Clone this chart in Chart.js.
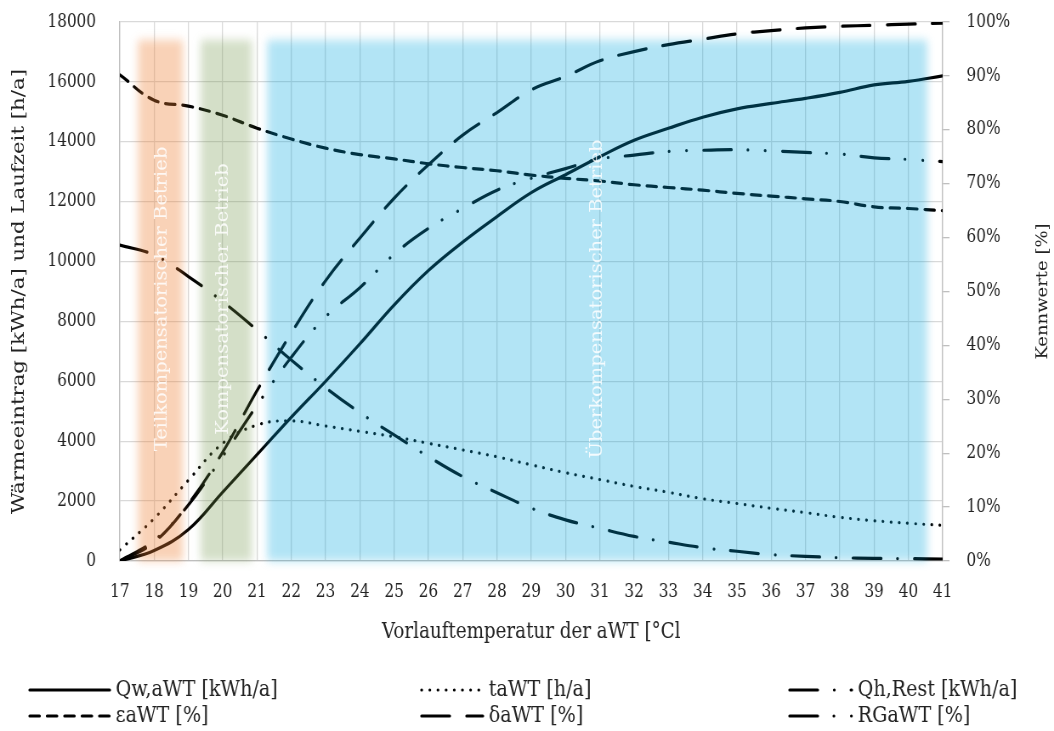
<!DOCTYPE html>
<html lang="de">
<head>
<meta charset="utf-8">
<title>Wärmeeintrag und Kennwerte der aWT</title>
<script src="https://cdn.jsdelivr.net/npm/chart.js@4.4.1/dist/chart.umd.min.js"></script>
<style>
  html, body { margin: 0; padding: 0; background: #fff; overflow: hidden; }
  /* The original figure is squeezed horizontally, so the chart is drawn wider and compressed */
  #frame { width: 1240px; height: 731px; transform: scaleX(0.85); transform-origin: 0 0; }
</style>
</head>
<body>
<div id="frame"><canvas id="chart"></canvas></div>
<script>
// Flow temperature of the aWT [°C]
const temperatures = [17, 18, 19, 20, 21, 22, 23, 24, 25, 26, 27, 28, 29, 30, 31, 32, 33, 34, 35, 36, 37, 38, 39, 40, 41];

// Left axis: kWh/a and h/a
const qwAwt = [0, 350, 1050, 2300, 3550, 4800, 6000, 7250, 8550, 9700, 10650, 11500, 12300, 12900, 13500, 14050, 14450, 14820, 15100, 15280, 15450, 15650, 15900, 16020, 16200];
const taWT = [370, 1420, 2700, 3930, 4540, 4680, 4510, 4330, 4150, 3930, 3710, 3480, 3210, 2950, 2720, 2490, 2295, 2080, 1920, 1760, 1615, 1460, 1345, 1260, 1190];
const qhRest = [10550, 10220, 9500, 8660, 7715, 6710, 5790, 4955, 4210, 3485, 2820, 2280, 1765, 1375, 1090, 820, 627, 445, 325, 212, 156, 111, 89, 78, 67];

// Right axis: percent
const epsAwt = [90.2, 85.5, 84.4, 82.7, 80.3, 78.3, 76.6, 75.4, 74.6, 73.7, 73.0, 72.4, 71.6, 71.0, 70.5, 69.8, 69.3, 68.8, 68.2, 67.7, 67.2, 66.7, 65.7, 65.4, 65.0];
const deltaAwt = [0, 3.5, 10.6, 20.2, 31.6, 42.3, 52.0, 59.9, 67.3, 73.5, 79.0, 83.2, 87.4, 89.9, 92.8, 94.5, 95.8, 96.8, 97.8, 98.4, 98.9, 99.2, 99.4, 99.6, 99.8];
const rgAwt = [0, 3.8, 10.4, 19.4, 28.9, 37.8, 45.3, 50.7, 56.9, 61.7, 65.4, 68.8, 71.0, 72.8, 74.6, 75.3, 76.0, 76.2, 76.3, 76.1, 75.8, 75.5, 74.8, 74.5, 74.1];

// Operating ranges (in °C on the x axis, kWh/a on the left axis)
const regionLabels = ['Teilkompensatorischer Betrieb', 'Kompensatorischer Betrieb', 'Überkompensatorischer Betrieb'];
const regionStart = [17.53, 19.36, 21.3];
const regionEnd = [18.84, 20.85, 40.55];
const regionTop = 17400;
const regionLabelX = [18.25, 20.03, 30.92];
const regionLabelY = 8750;

const leftTicks = { min: 0, max: 18000, step: 2000 };
const rightTicks = { min: 0, max: 100, step: 10 };

const TEXT = '#222';
const FONT = '"DejaVu Serif", serif';
const LINE_WIDTH = 3.2;
const regionColors = ['rgba(237, 125, 49, 0.35)', 'rgba(112, 148, 72, 0.3)', 'rgba(0, 165, 222, 0.3)'];

Chart.defaults.font.family = FONT;
Chart.defaults.font.size = 18;
Chart.defaults.color = TEXT;

function series(values) {
  return values.map((v, i) => ({ x: temperatures[i], y: v }));
}

// keep the tick label padding from pushing the plot area down
function fixWidth(width) {
  return s => {
    s.width = width;
    s.paddingTop = 0;
    s.paddingBottom = 0;
  };
}

/**
 * Draws the blurred operating ranges over the lines, as in the original figure
 */
const regionsPlugin = {
  id: 'regions',
  afterDatasetsDraw(chart) {
    const { ctx, scales: { x, y } } = chart;
    ctx.save();
    ctx.filter = 'blur(5px)';
    regionStart.forEach((start, i) => {
      const x0 = x.getPixelForValue(start);
      const x1 = x.getPixelForValue(regionEnd[i]);
      const y0 = y.getPixelForValue(regionTop);
      const y1 = y.getPixelForValue(0);
      ctx.fillStyle = regionColors[i];
      ctx.fillRect(x0, y0, x1 - x0, y1 - y0);
    });
    ctx.restore();
  },
  afterDraw(chart) {
    const { ctx, scales: { x, y } } = chart;
    // vertical labels of the ranges
    ctx.save();
    ctx.font = '19.5px ' + FONT;
    ctx.fillStyle = 'rgba(255, 255, 255, 0.85)';
    ctx.textAlign = 'center';
    ctx.textBaseline = 'middle';
    regionLabels.forEach((label, i) => {
      ctx.save();
      ctx.translate(x.getPixelForValue(regionLabelX[i]), y.getPixelForValue(regionLabelY));
      ctx.rotate(-Math.PI / 2);
      ctx.fillText(label, 0, 0);
      ctx.restore();
    });
    ctx.restore();

    // right axis title reads bottom-to-top
    ctx.save();
    ctx.font = '18px ' + FONT;
    ctx.fillStyle = TEXT;
    ctx.textAlign = 'center';
    ctx.textBaseline = 'middle';
    ctx.translate(1227, (chart.chartArea.top + chart.chartArea.bottom) / 2);
    ctx.rotate(-Math.PI / 2);
    ctx.fillText('Kennwerte [%]', 0, 0);
    ctx.restore();
  }
};

/**
 * Three column legend below the chart, like the Excel original
 */
const legendPlugin = {
  id: 'gridLegend',
  afterDraw(chart) {
    const { ctx } = chart;
    const lineStart = [35, 496, 929];
    const lineLength = [94, 72, 73];
    const rowY = [690, 716];
    ctx.save();
    ctx.font = '22.5px ' + FONT;
    ctx.fillStyle = TEXT;
    ctx.textBaseline = 'middle';
    chart.data.datasets.forEach((ds, i) => {
      const col = i % 3;
      const row = Math.floor(i / 3);
      const yy = rowY[row];
      ctx.save();
      ctx.strokeStyle = '#000';
      ctx.lineWidth = ds.borderWidth;
      ctx.lineCap = ds.borderCapStyle || 'butt';
      ctx.setLineDash(ds.borderDash || []);
      ctx.beginPath();
      ctx.moveTo(lineStart[col], yy);
      ctx.lineTo(lineStart[col] + lineLength[col], yy);
      ctx.stroke();
      ctx.restore();
      ctx.fillText(ds.label, lineStart[col] + lineLength[col] + 7, yy);
    });
    ctx.restore();
  }
};

const ctx = document.getElementById('chart').getContext('2d');

const lineStyle = { borderColor: '#000', borderWidth: LINE_WIDTH, borderCapStyle: 'round', pointRadius: 0, tension: 0.4, fill: false };

new Chart(ctx, {
  type: 'line',
  data: {
    datasets: [
      { ...lineStyle, label: 'Qw,aWT [kWh/a]', data: series(qwAwt), yAxisID: 'y', borderDash: [] },
      { ...lineStyle, label: 'taWT [h/a]', data: series(taWT), yAxisID: 'y', borderDash: [0.1, 9.5] },
      { ...lineStyle, label: 'Qh,Rest [kWh/a]', data: series(qhRest), yAxisID: 'y', borderDash: [33, 19.5, 0.1, 19.5] },
      { ...lineStyle, label: 'εaWT [%]', data: series(epsAwt), yAxisID: 'y1', borderDash: [11.5, 9] },
      { ...lineStyle, label: 'δaWT [%]', data: series(deltaAwt), yAxisID: 'y1', borderDash: [33, 20] },
      { ...lineStyle, label: 'RGaWT [%]', data: series(rgAwt), yAxisID: 'y1', borderDash: [33, 19, 0.1, 20.5, 0.1, 20] }
    ]
  },
  options: {
    responsive: true,
    maintainAspectRatio: false,
    animation: false,
    layout: { padding: { top: 22, bottom: 80, left: 0, right: 0 } },
    plugins: {
      legend: { display: false },
      tooltip: { enabled: false }
    },
    scales: {
      x: {
        type: 'linear',
        min: temperatures[0],
        max: temperatures[temperatures.length - 1],
        ticks: { stepSize: 1, padding: 21, callback: v => String(v) },
        grid: { color: '#d9d9d9', lineWidth: 1.3, drawTicks: false },
        border: { color: '#bfbfbf', width: 1.3 },
        title: { display: true, text: 'Vorlauftemperatur der aWT [°Cl', font: { size: 21.5 }, padding: { top: 0, bottom: 6 } },
        afterFit: s => { s.height = 90; }
      },
      y: {
        position: 'left',
        min: leftTicks.min,
        max: leftTicks.max,
        ticks: { stepSize: leftTicks.step, padding: 28, callback: v => String(v) },
        grid: { color: '#d9d9d9', lineWidth: 1.3, drawTicks: false },
        border: { color: '#bfbfbf', width: 1.3 },
        title: { display: true, text: 'Wärmeeintrag [kWh/a] und Laufzeit [h/a]', font: { size: 21.3 }, padding: { top: 10, bottom: 0 } },
        afterFit: fixWidth(141)
      },
      y1: {
        position: 'right',
        min: rightTicks.min,
        max: rightTicks.max,
        ticks: { stepSize: rightTicks.step, padding: 20, callback: v => v + '%' },
        grid: { drawOnChartArea: false, drawTicks: true, tickLength: 8, color: '#bfbfbf', lineWidth: 1.3 },
        border: { color: '#bfbfbf', width: 1.3 },
        afterFit: fixWidth(131)
      }
    }
  },
  plugins: [regionsPlugin, legendPlugin]
});
</script>
</body>
</html>
